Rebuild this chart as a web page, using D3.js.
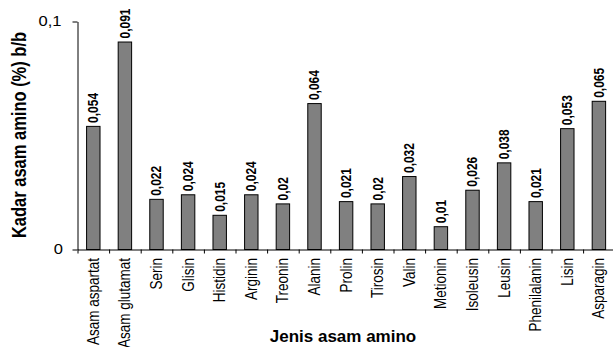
<!DOCTYPE html>
<html>
<head>
<meta charset="utf-8">
<script src="https://cdn.jsdelivr.net/npm/d3@7"></script>
<style>
  html, body { margin: 0; padding: 0; background: #fff; }
  svg { display: block; font-family: "Liberation Sans", Arial, sans-serif; }
</style>
</head>
<body>
<svg id="chart" width="613" height="347"></svg>
<script>
const categories = ["Asam aspartat", "Asam glutamat", "Serin", "Glisin", "Histidin", "Arginin", "Treonin", "Alanin", "Prolin", "Tirosin", "Valin", "Metionin", "Isoleusin", "Leusin", "Phenilalanin", "Lisin", "Asparagin"];
const values = [0.054, 0.091, 0.022, 0.024, 0.015, 0.024, 0.02, 0.064, 0.021, 0.02, 0.032, 0.01, 0.026, 0.038, 0.021, 0.053, 0.065];
const valueLabels = ["0,054", "0,091", "0,022", "0,024", "0,015", "0,024", "0,02", "0,064", "0,021", "0,02", "0,032", "0,01", "0,026", "0,038", "0,021", "0,053", "0,065"];
const yTicks = [0, 0.1];
const yTickLabels = ["0", "0,1"];
const yTitle = "Kadar asam amino (%) b/b";
const xTitle = "Jenis asam amino";

const svg = d3.select("#chart");
const left = 77.5, step = 31.6;
const x = d3.scaleBand().domain(categories)
  .range([left, left + step * categories.length])
  .paddingInner(0.575).paddingOuter(0.2875);
const y = d3.scaleLinear().domain([0, 0.1]).range([249.5, 21.5]);
const SX = 1.18; // horizontal stretch of text

// bars
svg.append("g").selectAll("rect").data(values).join("rect")
  .attr("x", (d, i) => x(categories[i]))
  .attr("y", d => y(d))
  .attr("width", x.bandwidth())
  .attr("height", d => y(0) - y(d))
  .attr("fill", "#808080")
  .attr("stroke", "#000")
  .attr("stroke-width", 1);

// value labels
svg.append("g").selectAll("text").data(values).join("text")
  .attr("transform", (d, i) => `translate(${x(categories[i]) + x.bandwidth() / 2},${y(d) - 3.5}) scale(${SX},1) rotate(-90)`)
  .attr("dy", "0.35em")
  .attr("text-anchor", "start")
  .attr("font-size", 12)
  .attr("font-weight", "bold")
  .attr("fill", "#000")
  .text((d, i) => valueLabels[i]);

// y axis
const yAxis = d3.axisLeft(y).tickValues(yTicks).tickSize(5).tickSizeOuter(0).tickFormat(() => "");
const gy = svg.append("g").attr("transform", `translate(${left},0)`).call(yAxis);
gy.select(".domain").attr("stroke", "#000");
gy.selectAll(".tick line").attr("stroke", "#000");
svg.append("g").selectAll("text").data(yTicks).join("text")
  .attr("transform", d => `translate(${d === 0 ? 63 : 61.5},${y(d)}) scale(${SX},1)`)
  .attr("dy", "0.35em")
  .attr("text-anchor", "end")
  .attr("font-size", 14)
  .attr("fill", "#000")
  .text((d, i) => yTickLabels[i]);

// x axis line and boundary ticks
const bScale = d3.scaleLinear().domain([0, categories.length]).range([left, left + step * categories.length]);
const xAxis = d3.axisBottom(bScale).tickValues(d3.range(0, categories.length + 1)).tickSize(4).tickSizeOuter(0).tickFormat(() => "");
const gx = svg.append("g").attr("transform", `translate(0,${y(0)})`).call(xAxis);
gx.select(".domain").attr("stroke", "#000");
gx.selectAll(".tick line").attr("stroke", "#000");

// category labels
svg.append("g").selectAll("text").data(categories).join("text")
  .attr("transform", d => `translate(${x(d) + x.bandwidth() / 2},258) scale(${SX},1) rotate(-90)`)
  .attr("dy", "0.35em")
  .attr("text-anchor", "end")
  .attr("font-size", 13.5)
  .attr("fill", "#000")
  .text(d => d);

// titles
svg.append("text")
  .attr("transform", `translate(19,135) scale(${SX},1) rotate(-90)`)
  .attr("dy", "0.35em")
  .attr("text-anchor", "middle")
  .attr("font-size", 16.5)
  .attr("font-weight", "bold")
  .attr("fill", "#000")
  .text(yTitle);

svg.append("text")
  .attr("transform", `translate(343,342) scale(1.05,1)`)
  .attr("text-anchor", "middle")
  .attr("font-size", 16.2)
  .attr("font-weight", "bold")
  .attr("fill", "#000")
  .text(xTitle);
</script>
</body>
</html>
